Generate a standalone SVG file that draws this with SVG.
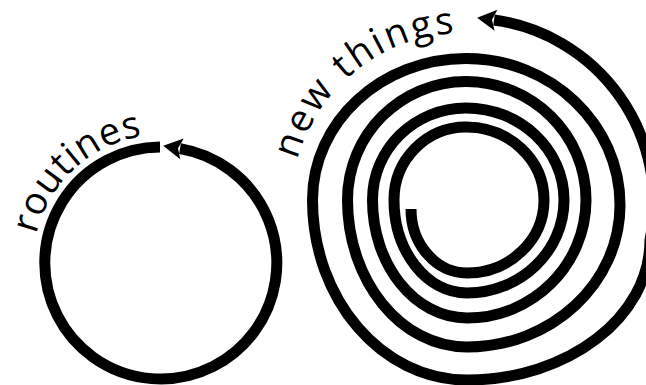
<svg xmlns="http://www.w3.org/2000/svg" width="646" height="385" viewBox="0 0 646 385">
  <style>
    .line { fill: none; stroke: #000; stroke-width: 11; stroke-linecap: butt; }
    .lbl { font-family: "Open Sans", "Liberation Sans", sans-serif; font-size: 38px; fill: #000; }
  </style>
  <defs>
    <marker id="ah" markerUnits="userSpaceOnUse" markerWidth="40" markerHeight="40" viewBox="-10 -20 40 40" refX="0" refY="0" orient="auto" overflow="visible">
      <path d="M-2,-10.5 L17,0 L-2,10.5 L2,0 Z" fill="#000"/>
    </marker>
    <path id="rp" d="M36.3,234.2 A128,128 0 0 1 259,180.7"/>
    <path id="np" d="M297.3,159.8 A173,173 0 0 1 596.5,94.8"/>
  </defs>
  <rect width="646" height="385" fill="#fff"/>
  <g id="routines">
    <path class="line" d="M160,147 A116,116 0 1 0 180,148.6" marker-end="url(#ah)"/>
    <text class="lbl" letter-spacing="0.75"><textPath href="#rp">routines</textPath></text>
  </g>
  <g id="new-things">
    <path class="line" marker-end="url(#ah)" d="M411,209 C411,244.3 436.1,273 467,273 C509.5,273 544,240.3 544,200 C544,159.7 509.1,127 466,127 C426.3,127 394,159.7 394,200 C394,251.3 426.7,293 467,293 C520.5,293 564,251.3 564,200 C564,149.2 520.1,108 466,108 C414.4,108 372.5,149.2 372.5,200 C372.5,265.1 414.8,318 467,318 C532.7,318 586,265.1 586,200 C586,134.6 532.2,81.5 466,81.5 C400.6,81.5 347.5,134.6 347.5,200 C347.5,281.1 401,347 467,347 C551.5,347 620,283.4 620,205 C620,124.1 551,58.5 466,58.5 C381.3,58.5 312.5,121.9 312.5,200 C312.5,299.4 381.7,380 467,380 C568,380 650,317.3 650,240 A185,185 0 0 0 494,20"/>
    <text class="lbl" letter-spacing="2.5"><textPath href="#np">new things</textPath></text>
  </g>
</svg>
